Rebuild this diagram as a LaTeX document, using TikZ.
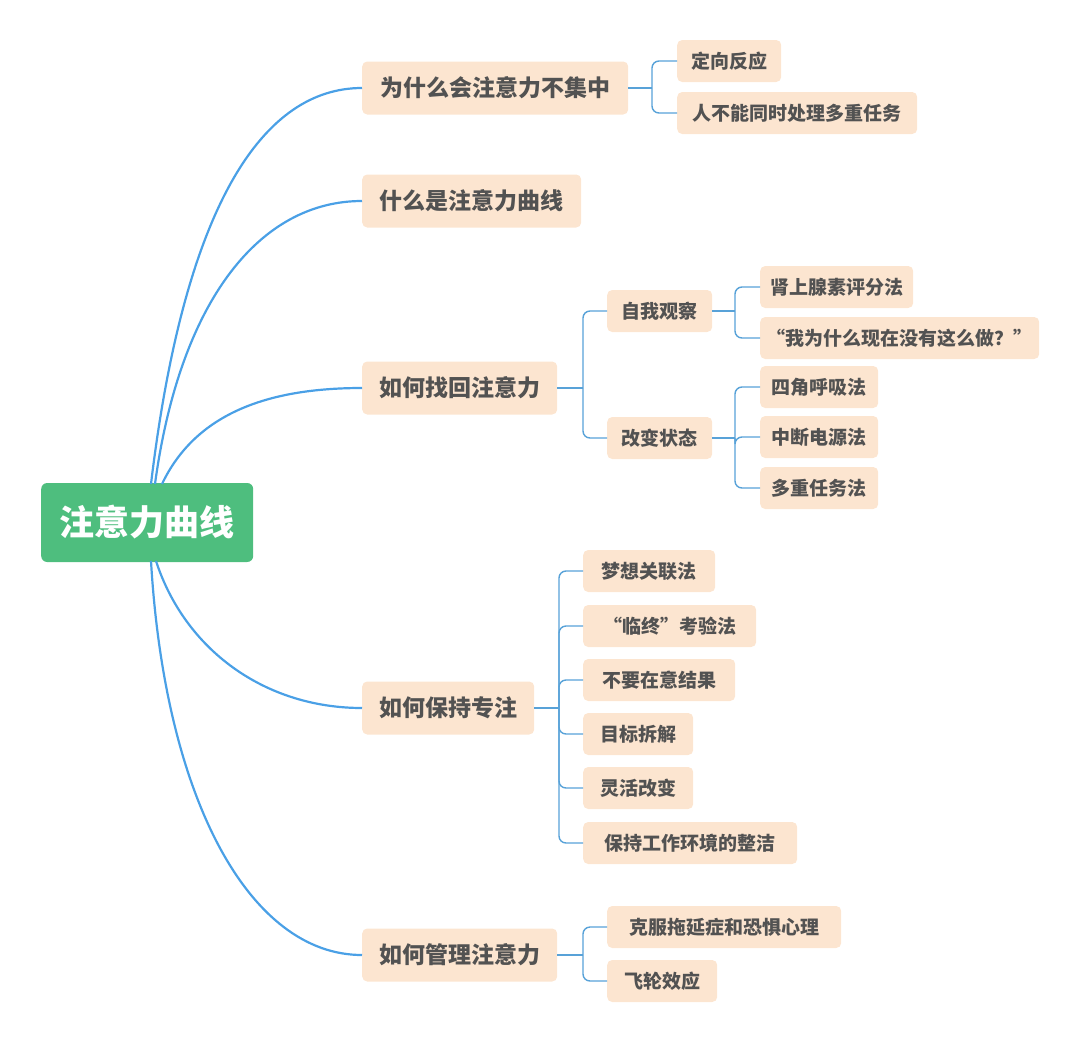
\documentclass[tikz,border=0pt]{standalone}
\usepackage{fontspec}
\setmainfont{Noto Sans CJK SC}
\definecolor{rootgreen}{RGB}{78,190,126}
\definecolor{peach}{RGB}{252,229,208}
\definecolor{txt}{RGB}{82,82,82}
\definecolor{mainline}{RGB}{74,160,230}
\definecolor{subline}{RGB}{88,162,216}
\tikzset{
  rootbox/.style={fill=rootgreen, rounded corners=6pt, text=white, font=\fontsize{35}{40}\selectfont\bfseries, minimum height=79pt, inner sep=0pt, anchor=west},
  lone/.style={fill=peach, rounded corners=5pt, text=txt, font=\fontsize{23}{27}\selectfont\bfseries, minimum height=53pt, inner sep=0pt, anchor=west},
  ltwo/.style={fill=peach, rounded corners=5pt, text=txt, font=\fontsize{19}{23}\selectfont\bfseries, minimum height=42pt, inner sep=0pt, anchor=west},
  mainconn/.style={draw=mainline, line width=2.2pt},
  subconn/.style={draw=subline, line width=1.4pt, rounded corners=7pt},
}
\begin{document}
\begin{tikzpicture}[x=1pt,y=-1pt]
\useasboundingbox (0,0) rectangle (1080,1045);
% root
\node[rootbox, minimum width=212pt] (root) at (41,522.5) {注意力曲线};
% level 1
\node[lone, minimum width=266pt] (a1) at (362,88) {为什么会注意力不集中};
\node[lone, minimum width=219pt] (a2) at (362,201) {什么是注意力曲线};
\node[lone, minimum width=195pt] (a3) at (362,388) {如何找回注意力};
\node[lone, minimum width=172pt] (a4) at (362,708) {如何保持专注};
\node[lone, minimum width=195pt] (a5) at (362,955) {如何管理注意力};
% level 2 under a1
\node[ltwo, minimum width=104pt] (b1) at (677,61) {定向反应};
\node[ltwo, minimum width=240pt] (b2) at (677,113) {人不能同时处理多重任务};
% under a3
\node[ltwo, minimum width=105pt] (c1) at (607,311) {自我观察};
\node[ltwo, minimum width=105pt] (c2) at (607,438) {改变状态};
\node[ltwo, minimum width=153pt] (d1) at (760,287) {肾上腺素评分法};
\node[ltwo, minimum width=279pt] (d2) at (760,338) {“我为什么现在没有这么做？”};
\node[ltwo, minimum width=118pt] (e1) at (760,387) {四角呼吸法};
\node[ltwo, minimum width=118pt] (e2) at (760,437) {中断电源法};
\node[ltwo, minimum width=118pt] (e3) at (760,488) {多重任务法};
% under a4
\node[ltwo, minimum width=132pt] (f1) at (583,571) {梦想关联法};
\node[ltwo, minimum width=173pt] (f2) at (583,626) {“临终”考验法};
\node[ltwo, minimum width=152pt] (f3) at (583,680) {不要在意结果};
\node[ltwo, minimum width=110pt] (f4) at (583,734) {目标拆解};
\node[ltwo, minimum width=110pt] (f5) at (583,788) {灵活改变};
\node[ltwo, minimum width=214pt] (f6) at (583,843) {保持工作环境的整洁};
% under a5
\node[ltwo, minimum width=234pt] (g1) at (607,927) {克服拖延症和恐惧心理};
\node[ltwo, minimum width=110pt] (g2) at (607,981) {飞轮效应};

% main curves
\coordinate (r1) at (151,484);
\coordinate (r2) at (155,484);
\coordinate (r3) at (162,484);
\coordinate (r4) at (156,561);
\coordinate (r5) at (151,561);
\draw[mainconn] (r1) .. controls (185,200) and (265,88) .. (a1.west);
\draw[mainconn] (r2) .. controls (180,300) and (260,201) .. (a2.west);
\draw[mainconn] (r3) .. controls (195,415) and (265,388) .. (a3.west);
\draw[mainconn] (r4) .. controls (185,650) and (265,708) .. (a4.west);
\draw[mainconn] (r5) .. controls (165,800) and (250,955) .. (a5.west);

% sub connectors
\coordinate (s1) at (652,88);
\draw[subconn] (a1.east) -- (s1);
\draw[subconn] (s1) |- (b1.west);
\draw[subconn] (s1) |- (b2.west);

\coordinate (s3) at (583,388);
\draw[subconn] (a3.east) -- (s3);
\draw[subconn] (s3) |- (c1.west);
\draw[subconn] (s3) |- (c2.west);

\coordinate (s31) at (735,311);
\draw[subconn] (c1.east) -- (s31);
\draw[subconn] (s31) |- (d1.west);
\draw[subconn] (s31) |- (d2.west);

\coordinate (s32) at (735,438);
\draw[subconn] (c2.east) -- (s32);
\draw[subconn] (s32) |- (e1.west);
\draw[subconn] (s32) |- (e2.west);
\draw[subconn] (s32) |- (e3.west);

\coordinate (s4) at (559,708);
\draw[subconn] (a4.east) -- (s4);
\foreach \n in {f1,f2,f3,f4,f5,f6}{
  \draw[subconn] (s4) |- (\n.west);
}

\coordinate (s5) at (583,955);
\draw[subconn] (a5.east) -- (s5);
\draw[subconn] (s5) |- (g1.west);
\draw[subconn] (s5) |- (g2.west);
\end{tikzpicture}
\end{document}
